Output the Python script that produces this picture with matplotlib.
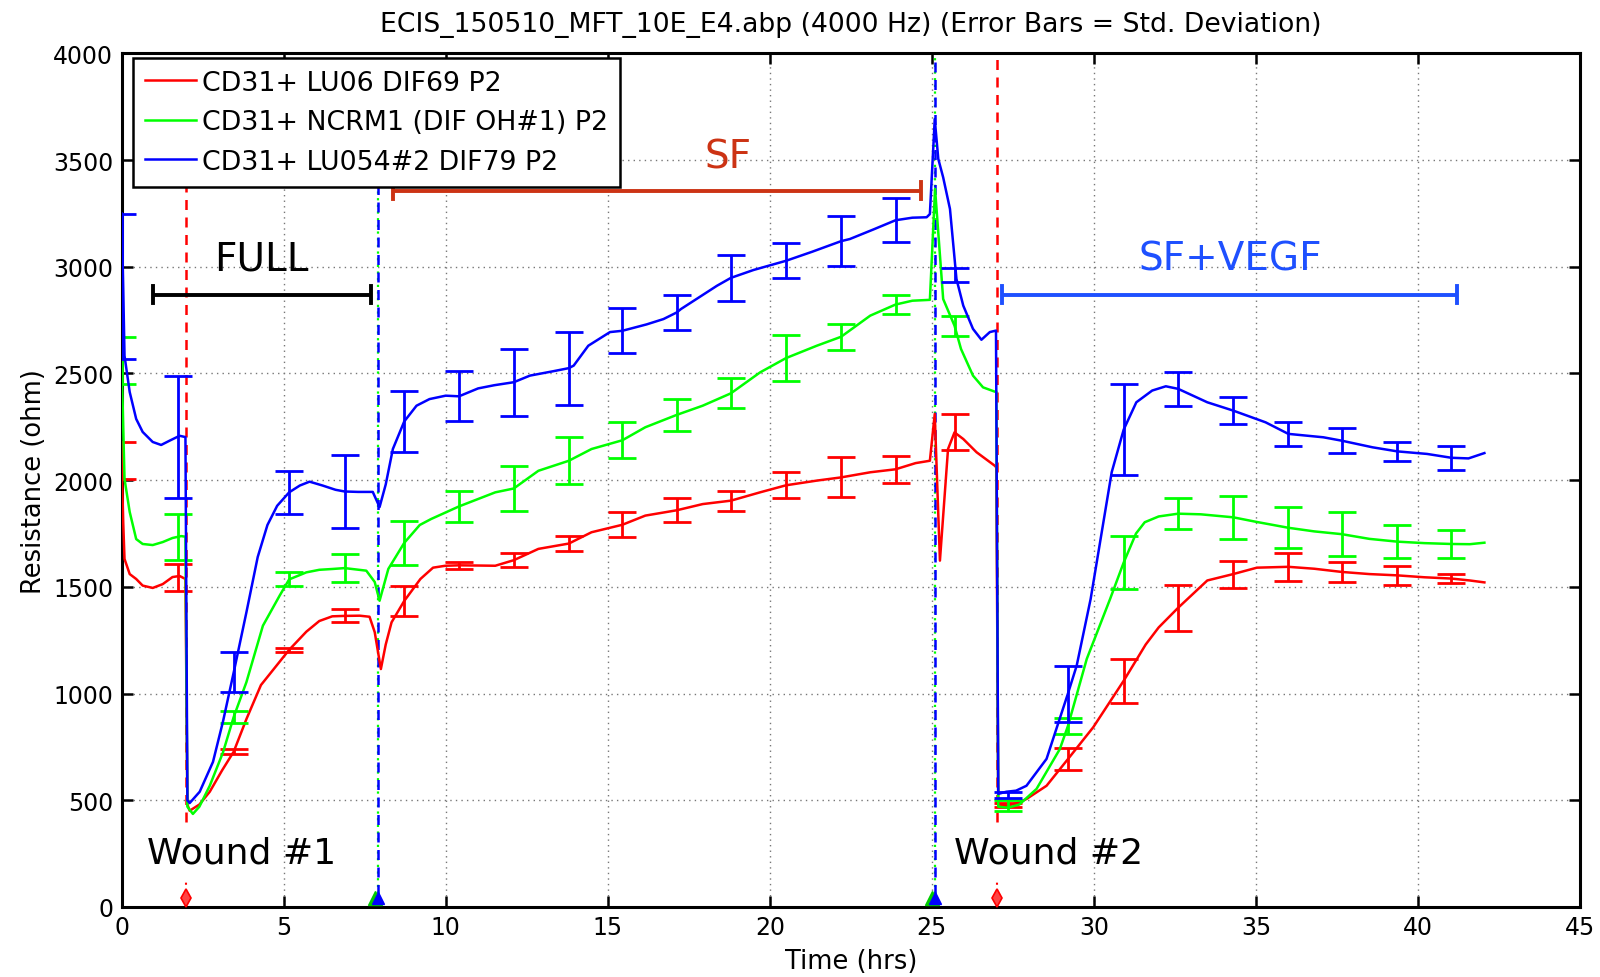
import matplotlib
matplotlib.use("Agg")
import matplotlib.pyplot as plt

plt.rcParams['font.family'] = ['DejaVu Sans']

# ---------------- data ----------------
red_t = [0.0, 0.05, 0.09, 0.25, 0.45, 0.65, 0.96, 1.27, 1.57, 1.79, 1.97, 2.03, 2.1, 2.4, 2.72, 3.1, 3.46,
         3.85, 4.3, 4.88, 5.17, 5.7, 6.1, 6.5, 6.88, 7.35, 7.65, 7.81, 8.0, 8.15, 8.33, 8.72, 9.22, 9.61,
         9.99, 10.41, 11.0, 11.53, 12.1, 12.86, 13.8, 14.5, 15.45, 16.16, 17.13, 17.93, 18.8, 19.7, 20.5,
         21.45, 22.2, 23.1, 23.88, 24.5, 24.94, 25.09, 25.25, 25.5, 25.7, 25.97, 26.38, 26.94, 26.99,
         27.05, 27.35, 27.7, 27.92, 28.54, 29.2, 29.98, 30.92, 31.6, 32.0, 32.6, 33.5, 34.3, 35.03, 36.0,
         36.8, 37.65, 38.5, 39.36, 40.2, 41.03, 41.6, 42.05]
red_v = [2094, 1800, 1631, 1560, 1537, 1506, 1495, 1513, 1546, 1551, 1537, 480, 451, 480, 540, 640, 728,
         880, 1040, 1150, 1205, 1290, 1340, 1362, 1364, 1365, 1360, 1288, 1115, 1230, 1334, 1434, 1537, 1590,
         1599, 1601, 1600, 1599, 1625, 1678, 1703, 1756, 1791, 1834, 1859, 1888, 1904, 1943, 1976,
         1998, 2013, 2037, 2051, 2080, 2091, 2310, 1623, 2146, 2224, 2193, 2131, 2068, 2060,
         480, 475, 490, 506, 568, 693, 842, 1060, 1230, 1310, 1402, 1530, 1560, 1590, 1594,
         1585, 1570, 1560, 1554, 1545, 1539, 1530, 1521]

green_t = [0.0, 0.05, 0.09, 0.25, 0.45, 0.65, 0.96, 1.27, 1.57, 1.84, 1.97, 2.03, 2.2, 2.4, 2.72, 3.13, 3.46,
           3.85, 4.36, 4.88, 5.17, 5.7, 6.1, 6.52, 6.88, 7.55, 7.81, 7.96, 8.23, 8.72, 9.2, 9.55, 10.41,
           11.53, 12.1, 12.86, 13.8, 14.5, 15.45, 16.16, 17.13, 17.93, 18.8, 19.7, 20.5, 21.45, 22.2, 23.1,
           23.88, 24.4, 24.94, 25.1, 25.35, 25.7, 25.9, 26.27, 26.58, 26.94, 26.99, 27.05, 27.35, 27.7,
           28.23, 28.95, 29.2, 29.78, 30.5, 30.92, 31.3, 31.57, 32.0, 32.6, 33.3, 34.3, 35.0, 36.0, 36.8,
           37.65, 38.5, 39.36, 40.2, 41.03, 41.6, 42.05]
green_v = [2560, 2250, 2006, 1851, 1724, 1701, 1696, 1710, 1729, 1738, 1735, 470, 436, 470, 568, 725, 891,
           1053, 1318, 1460, 1535, 1568, 1580, 1584, 1588, 1576, 1523, 1435, 1584, 1706, 1790, 1818, 1877,
           1943, 1961, 2044, 2091, 2146, 2187, 2248, 2306, 2349, 2407, 2505, 2572, 2630, 2672, 2771,
           2823, 2841, 2845, 3365, 2849, 2724, 2615, 2490, 2435, 2415, 2415, 470, 465, 480,
           553, 740, 848, 1162, 1443, 1614, 1750, 1803, 1830, 1843, 1840, 1826, 1805, 1777, 1760,
           1747, 1725, 1712, 1705, 1701, 1700, 1707]

blue_t = [0.0, 0.05, 0.09, 0.25, 0.45, 0.65, 0.96, 1.22, 1.48, 1.79, 1.97, 2.03, 2.1, 2.41, 2.82, 3.13, 3.46,
          3.85, 4.2, 4.5, 4.8, 5.17, 5.5, 5.8, 6.2, 6.6, 6.88, 7.3, 7.75, 7.96, 8.15, 8.37, 8.72, 9.1, 9.5,
          10.0, 10.41, 11.0, 11.5, 12.1, 12.6, 13.3, 13.8, 13.95, 14.4, 15.07, 15.45, 16.2, 16.72, 17.13,
          17.26, 18.37, 18.8, 19.5, 20.5, 21.3, 22.2, 22.47, 23.2, 23.88, 24.4, 24.84, 24.94, 25.09, 25.2,
          25.35, 25.56, 25.76, 25.97, 26.27, 26.53, 26.79, 26.98, 27.05, 27.3, 27.6, 27.92, 28.54, 29.2,
          29.47, 29.9, 30.55, 30.92, 31.31, 31.8, 32.22, 32.6, 33.0, 33.5, 34.3, 35.3, 36.0, 37.08, 37.65,
          38.6, 39.36, 40.28, 41.03, 41.56, 42.05]
blue_v = [3250, 2900, 2583, 2413, 2287, 2226, 2179, 2165, 2185, 2208, 2202, 500, 487, 540, 680, 870, 1100,
          1380, 1640, 1790, 1880, 1943, 1975, 1993, 1975, 1955, 1947, 1945, 1945, 1874, 1980, 2146, 2275, 2349, 2380,
          2396, 2393, 2430, 2445, 2459, 2490, 2510, 2525, 2537, 2630, 2694, 2700, 2730, 2755, 2786,
          2802, 2911, 2948, 2985, 3028, 3070, 3120, 3130, 3175, 3218, 3230, 3232, 3247, 3692, 3505,
          3419, 3271, 2943, 2818, 2709, 2658, 2694, 2701, 530, 540, 545, 568, 694, 1000,
          1131, 1443, 2037, 2237, 2365, 2420, 2440, 2428, 2400, 2365, 2326, 2271, 2217, 2201, 2185,
          2154, 2135, 2123, 2105, 2102, 2127]

eb_t = [0.0, 1.73, 3.46, 5.17, 6.88, 8.72, 10.41, 12.1, 13.8, 15.45, 17.13, 18.8, 20.5, 22.2, 23.88,
        25.7, 27.35, 29.2, 30.92, 32.6, 34.3, 36.0, 37.65, 39.36, 41.03]
red_eb_mean = [2094, 1545, 728, 1205, 1364, 1434, 1600, 1626, 1703, 1791, 1859, 1904, 1976, 2013, 2051,
               2227, 478, 693, 1060, 1402, 1560, 1594, 1570, 1554, 1539]
red_eb_sd = [87, 63, 10, 10, 30, 72, 17, 34, 34, 59, 56, 47, 61, 94, 64,
             84, 10, 50, 102, 107, 63, 65, 46, 45, 21]
green_eb_mean = [2560, 1734, 891, 1535, 1588, 1706, 1877, 1961, 2091, 2187, 2306, 2407, 2572, 2672, 2823,
                 2724, 475, 848, 1614, 1843, 1826, 1777, 1747, 1712, 1701]
green_eb_sd = [110, 108, 29, 33, 66, 104, 74, 104, 110, 85, 74, 70, 106, 60, 45,
               47, 24, 37, 124, 72, 102, 96, 104, 78, 67]
blue_eb_mean = [2908, 2203, 1100, 1943, 1947, 2275, 2393, 2459, 2525, 2700, 2786, 2948, 3028, 3120, 3218,
                2962, 525, 1000, 2237, 2428, 2326, 2217, 2185, 2135, 2105]
blue_eb_sd = [340, 287, 94, 101, 171, 141, 118, 156, 171, 105, 82, 107, 82, 118, 102,
              31, 16, 131, 213, 80, 62, 55, 58, 44, 56]

series_labels = ["CD31+ LU06 DIF69 P2", "CD31+ NCRM1 (DIF OH#1) P2", "CD31+ LU054#2 DIF79 P2"]
series_colors = ["#ff0000", "#00ff00", "#0000ff"]

wound_times = [2.0, 27.0]
wound_labels = ["Wound #1", "Wound #2"]
wound_label_pos = [(3.7, 253), (28.6, 253)]
change_times = [7.9, 25.1]

phase_labels = ["FULL", "SF", "SF+VEGF"]
phase_start = [0.98, 8.38, 27.18]
phase_end = [7.68, 24.66, 41.2]
phase_level = [2868, 3356, 2868]
phase_text_pos = [(4.3, 3040), (18.7, 3518), (34.2, 3040)]
phase_colors = ["#000000", "#cc3314", "#1e50ff"]

title = "ECIS_150510_MFT_10E_E4.abp (4000 Hz) (Error Bars = Std. Deviation)"
x_ticks = [0, 5, 10, 15, 20, 25, 30, 35, 40, 45]
y_ticks = [0, 500, 1000, 1500, 2000, 2500, 3000, 3500, 4000]

# ---------------- figure ----------------
fig = plt.figure(figsize=(16, 9.78), dpi=100)
ax = fig.add_axes([0.076, 0.0716, 0.9115, 0.8728])

ax.set_xlim(0, 45)
ax.set_ylim(0, 4000)
ax.set_xticks(x_ticks)
ax.set_yticks(y_ticks)
ax.grid(True, linestyle=(0, (1, 3)), color="#777777", linewidth=1.0)
ax.set_axisbelow(True)

# event vertical lines
for t in wound_times:
    ax.plot([t, t], [400, 4000], color="#ff0000", linestyle=(0, (4, 3)), linewidth=1.8, zorder=2)
    ax.plot([t, t], [75, 120], color="#ff0000", linestyle=(0, (1, 2)), linewidth=1.5, zorder=2)
    ax.plot([t], [40], marker="d", color="#ff0000", markersize=9, markerfacecolor="#ff4444",
            markeredgewidth=1.2, clip_on=False, zorder=6)
for t in change_times:
    ax.plot([t, t], [0, 4000], color="#00ff00", linestyle=(0, (1, 2)), linewidth=1.6, zorder=2)
    ax.plot([t, t], [0, 4000], color="#0000ff", linestyle=(2, (4, 3)), linewidth=1.8, zorder=2)
    ax.plot([t - 0.08], [40], marker="^", color="#00cc00", markersize=10, clip_on=False, zorder=6)
    ax.plot([t], [40], marker="^", color="#0000ff", markersize=9, clip_on=False, zorder=7)

curves = [(red_t, red_v, red_eb_mean, red_eb_sd),
          (green_t, green_v, green_eb_mean, green_eb_sd),
          (blue_t, blue_v, blue_eb_mean, blue_eb_sd)]
handles = []
for (tt, vv, em, es), lab, col in zip(curves, series_labels, series_colors):
    h, = ax.plot(tt, vv, color=col, linewidth=1.8, label=lab, zorder=4)
    ax.errorbar(eb_t, em, yerr=es, fmt="none", ecolor=col, elinewidth=2.0, capsize=10,
                capthick=2.0, zorder=4, clip_on=True)
    handles.append(h)

# phase bars
for lab, x0, x1, lv, (tx, ty), col in zip(phase_labels, phase_start, phase_end, phase_level,
                                           phase_text_pos, phase_colors):
    ax.plot([x0, x1], [lv, lv], color=col, linewidth=2.8, zorder=5, solid_capstyle="butt")
    ax.plot([x0, x0], [lv - 40, lv + 40], color=col, linewidth=2.8, zorder=5)
    ax.plot([x1, x1], [lv - 40, lv + 40], color=col, linewidth=2.8, zorder=5)
    ax.text(tx, ty, lab, color=col, fontsize=28, ha="center", va="center", zorder=6)

for lab, (tx, ty) in zip(wound_labels, wound_label_pos):
    ax.text(tx, ty, lab, color="black", fontsize=26, ha="center", va="center", zorder=6)

leg = ax.legend(handles=handles, loc="upper left", bbox_to_anchor=(0.0075, 0.995), borderaxespad=0,
                fontsize=19.3, frameon=True, fancybox=False, edgecolor="black", framealpha=1,
                handlelength=1.9, handletextpad=0.25, labelspacing=0.5, borderpad=0.45)
leg.get_frame().set_linewidth(1.8)
leg.set_zorder(10)

ax.set_title(title, fontsize=19.2, pad=16)
ax.set_xlabel("Time (hrs)", fontsize=18.5, labelpad=6)
ax.set_ylabel("Resistance (ohm)", fontsize=18.5, labelpad=4)
ax.tick_params(axis="both", which="major", direction="in", length=8, width=1.8, labelsize=17,
               top=True, right=True, pad=6)
for sp in ax.spines.values():
    sp.set_linewidth(2.2)

fig.savefig("out.png", dpi=100, facecolor="white")
